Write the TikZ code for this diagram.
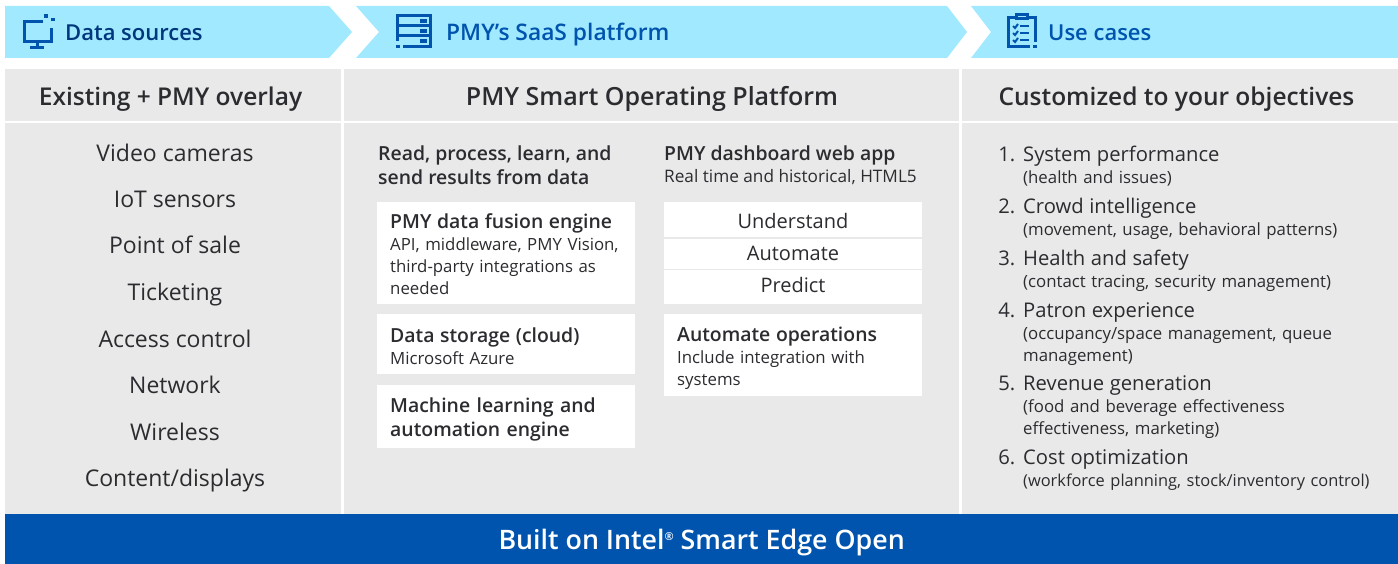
\documentclass[tikz,border=0pt]{standalone}
\usepackage{fontspec}
\usepackage{xcolor}
\setmainfont{Open Sans}
\newfontfamily\medfont{Open Sans}[UprightFont={* Semibold},BoldFont={* Semibold}]
\definecolor{bannerblue}{HTML}{A0E9FF}
\definecolor{panelgray}{HTML}{E9E9E9}
\definecolor{inkgray}{HTML}{2B2C30}
\definecolor{intelblue}{HTML}{0054AE}
\definecolor{darkblue}{HTML}{00377C}
\newcommand{\boldline}{\medfont\fontsize{19.4}{22}\selectfont}
\newcommand{\subline}{\fontsize{16.8}{22}\selectfont}
\newcommand{\caseline}[2]{{\fontsize{20.2}{22}\selectfont\llap{#1\hspace{8pt}}#2}}
\tikzset{
  bannertext/.style={anchor=base west, inner sep=0pt, text=intelblue, font=\medfont\fontsize{22}{24}\selectfont},
  headtext/.style={anchor=base, inner sep=0pt, text=inkgray, font=\medfont\fontsize{24.5}{26}\selectfont},
  sourcetext/.style={anchor=base, inner sep=0pt, text=inkgray, font=\fontsize{23}{24}\selectfont},
  boxnode/.style={anchor=north west, fill=white, inner xsep=13pt, inner ysep=0pt, minimum width=258pt, text width=232pt, align=left, text=inkgray, font=\subline},
  colhead/.style={anchor=north west, inner sep=0pt, text=inkgray, align=left, font=\subline},
  casetext/.style={anchor=north west, inner sep=0pt, text=inkgray, align=left, text width=372pt, font=\subline},
  dashtext/.style={anchor=base, inner sep=0pt, text=inkgray, font=\fontsize{20}{22}\selectfont},
  iconline/.style={draw=intelblue, line width=3pt},
  iconthin/.style={draw=intelblue, line width=2pt},
}
\begin{document}
\begin{tikzpicture}[x=1pt, y=-1pt]
\useasboundingbox (0,0) rectangle (1398,564);
% banner
\fill[bannerblue] (5,6) -- (329,6) -- (352,32) -- (329,58) -- (5,58) -- cycle;
\fill[bannerblue] (356,6) -- (947,6) -- (967,32) -- (947,58) -- (356,58) -- (379,32) -- cycle;
\fill[bannerblue] (971,6) -- (1398,6) -- (1398,58) -- (971,58) -- (991,32) -- cycle;
%
\node[bannertext, text=darkblue] (srcbanner) at (65,41) {Data sources};
\node[bannertext, font=\medfont\fontsize{22.8}{24}\selectfont] (saasbanner) at (446,41) {PMY’s SaaS platform};
\node[bannertext] (casebanner) at (1048,41) {Use cases};
% monitor icon
\draw[iconline] (43,22) -- (24,22) -- (24,42) -- (51,42) -- (51,28);
\draw[iconline] (37,42) -- (37,48);
\draw[iconline] (30,48) -- (44,48);
\fill[intelblue] (44,14) rectangle (48,18);
\fill[intelblue] (51,18) rectangle (55,21);
% server icon
\draw[iconline] (397,41) -- (397,16) -- (430,16) -- (430,47) -- (403,47);
\fill[intelblue] (395.5,45.5) rectangle (399.5,48.5);
\draw[iconline] (397,26) -- (430,26);
\draw[iconline] (397,36) -- (430,36);
\fill[intelblue] (420,19.5) rectangle (427,23);
\fill[intelblue] (420,29.5) rectangle (427,33);
\fill[intelblue] (420,39.5) rectangle (427,43);
% clipboard icon
\draw[iconline] (1015,18) -- (1008,18) -- (1008,47) -- (1030,47);
\draw[iconline] (1028,18) -- (1035,18) -- (1035,42);
\fill[intelblue] (1033,45.5) rectangle (1036.5,48.5);
\draw[iconline] (1016,19) rectangle (1027,15);
\draw[iconthin] (1020,26) -- (1029,26);
\draw[iconthin] (1020,33) -- (1029,33);
\draw[iconthin] (1020,40) -- (1029,40);
\draw[iconthin] (1013,26) -- (1015,28) -- (1018,24);
\draw[iconthin] (1013,33) -- (1015,35) -- (1018,31);
\draw[iconthin] (1013,40) -- (1015,42) -- (1018,38);
% panels
\fill[panelgray] (5,69) rectangle (341,121);
\fill[panelgray] (344,69) rectangle (959,121);
\fill[panelgray] (962,69) rectangle (1398,121);
\fill[panelgray] (5,123) rectangle (341,514);
\fill[panelgray] (344,123) rectangle (959,514);
\fill[panelgray] (962,123) rectangle (1398,514);
%
\node[headtext] (srchead) at (170.5,106) {Existing + PMY overlay};
\node[headtext, font=\medfont\fontsize{25}{26}\selectfont] (saashead) at (652,106) {PMY Smart Operating Platform};
\node[headtext] (casehead) at (1176.5,106) {Customized to your objectives};
% data sources
\node[sourcetext] (src1) at (175,162) {Video cameras};
\node[sourcetext] (src2) at (175,208) {IoT sensors};
\node[sourcetext] (src3) at (175,254) {Point of sale};
\node[sourcetext] (src4) at (175,301) {Ticketing};
\node[sourcetext] (src5) at (175,347) {Access control};
\node[sourcetext] (src6) at (175,393) {Network};
\node[sourcetext] (src7) at (175,440) {Wireless};
\node[sourcetext] (src8) at (175,486) {Content/displays};
% platform, left column
\node[colhead, font=\medfont\fontsize{19.4}{24}\selectfont] (readhead) at (378,146) {Read, process, learn, and\\send results from data};
\node[boxnode, minimum height=102pt, text height=17pt] (fusion) at (377,202) {{\boldline PMY data fusion engine}\\\mbox{API, middleware, PMY Vision,}\\third-party integrations as\\needed};
\node[boxnode, minimum height=60pt, text height=18pt] (storage) at (377,314) {{\boldline Data storage (cloud)}\\Microsoft Azure};
\node[boxnode, minimum height=63pt, text height=21pt, font=\medfont\fontsize{19.4}{24}\selectfont] (learning) at (377,385) {Machine learning and\\automation engine};
% platform, right column
\node[colhead] (dashhead) at (664,145.5) {{\boldline PMY dashboard web app}\\{\fontsize{17.2}{22}\selectfont Real time and historical, HTML5}};
\fill[white] (664,202) rectangle (922,304);
\draw[panelgray, line width=1.2pt] (664,238) -- (922,238);
\draw[panelgray, line width=1.2pt] (664,269.5) -- (922,269.5);
\node[dashtext] (understand) at (793,229) {Understand};
\node[dashtext] (automate) at (793,261) {Automate};
\node[dashtext] (predict) at (793,292.5) {Predict};
\node[boxnode, minimum height=82pt, text height=21pt] (operations) at (664,314) {{\boldline Automate operations}\\Include integration with\\systems};
% use cases
\node[casetext] (case1) at (1023,145.5) {\caseline{1.}{System performance}\\(health and issues)};
\node[casetext] (case2) at (1023,197.5) {\caseline{2.}{Crowd intelligence}\\(movement, usage, behavioral patterns)};
\node[casetext] (case3) at (1023,249.5) {\caseline{3.}{Health and safety}\\(contact tracing, security management)};
\node[casetext] (case4) at (1023,302) {\caseline{4.}{Patron experience}\\(occupancy/space management, queue\\management)};
\node[casetext] (case5) at (1023,375) {\caseline{5.}{Revenue generation}\\(food and beverage effectiveness\\effectiveness, marketing)};
\node[casetext] (case6) at (1023,449) {\caseline{6.}{Cost optimization}\\{\fontsize{16.4}{22}\selectfont (workforce planning, stock/inventory control)}};
% base band
\node[anchor=north west, fill=intelblue, text=white, minimum width=1393pt, minimum height=50pt, inner sep=0pt, text height=26pt, text depth=6pt, font=\medfont\fontsize{26.8}{28}\selectfont] (base) at (5,514) {Built on Intel{\fontsize{11}{14}\selectfont\raisebox{9pt}{®}} Smart Edge Open};
\end{tikzpicture}
\end{document}
